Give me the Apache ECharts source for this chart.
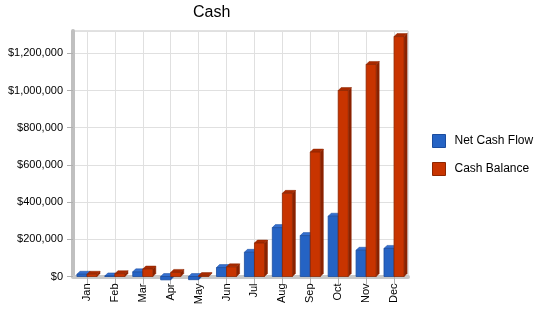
<!DOCTYPE html>
<html>
<head>
<meta charset="utf-8">
<script src="https://cdn.jsdelivr.net/npm/echarts@6/dist/echarts.min.js"></script>
<style>html,body{margin:0;padding:0;background:#fff;}#chart{width:550px;height:318px;}</style>
</head>
<body>
<div id="chart"></div>
<script>
const months = ['Jan','Feb','Mar','Apr','May','Jun','Jul','Aug','Sep','Oct','Nov','Dec'];
const netCashFlow = [12000, 3000, 25000, -18000, -17000, 48000, 130000, 263000, 220000, 324000, 141000, 151000];
const cashBalance = [12000, 15000, 40000, 22000, 5000, 52000, 180000, 447000, 669000, 1000000, 1140000, 1290000];
const seriesNames = ['Net Cash Flow', 'Cash Balance'];
const yMin = 0, yMax = 1320000, yInterval = 200000;

const FONT = "'Liberation Sans', Arial, sans-serif";
const palette = [
  {front:'#2563C4', top:'#3570D0', side:'#1A4A9A', edge:'#1B4C9E'},
  {front:'#C83400', top:'#A82A00', side:'#8A2200', edge:'#8E2600'}
];

function make3D(idx) {
  const c = palette[idx];
  return function (params, api) {
    const x = api.value(0), v = api.value(1);
    const base = api.coord([x, 0]);
    const end = api.coord([x, v]);
    const band = api.size([1, 0])[0];
    const w = band * 0.36;
    const d = 3;
    const left = base[0] + (idx === 0 ? -w : 0);
    const yTop = Math.min(base[1], end[1]);
    const h = Math.abs(base[1] - end[1]);
    return {
      type: 'group',
      children: [
        {type:'polygon', shape:{points:[[left+w,yTop],[left+w+d,yTop-d],[left+w+d,yTop-d+h],[left+w,yTop+h]]}, style:{fill:c.side, stroke:c.edge, lineWidth:0.5}},
        {type:'polygon', shape:{points:[[left,yTop],[left+d,yTop-d],[left+w+d,yTop-d],[left+w,yTop]]}, style:{fill:c.top, stroke:c.edge, lineWidth:0.5}},
        {type:'rect', shape:{x:left, y:yTop, width:w, height:h}, style:{fill:c.front, stroke:c.edge, lineWidth:0.8}}
      ]
    };
  };
}

const chart = echarts.init(document.getElementById('chart'), null, {renderer:'canvas'});
chart.setOption({
  animation: false,
  backgroundColor: '#fff',
  title: {
    text: 'Cash', left: 193, top: 5, padding: 0,
    textStyle: {fontFamily: FONT, fontSize: 16, fontWeight: 'normal', color: '#000'}
  },
  legend: {
    orient: 'vertical', left: 432, top: 134, padding: 0, itemWidth: 13, itemHeight: 13, itemGap: 14,
    icon: 'rect',
    textStyle: {fontFamily: FONT, fontSize: 12, color: '#000', padding: [0,0,0,4]},
    data: seriesNames.map((n, i) => ({name: n, itemStyle: {color: palette[i].front, borderColor: palette[i].edge, borderWidth: 1}}))
  },
  grid: {left: 73, right: 142, top: 31, bottom: 41.5, show: true, borderColor: '#c4c4c4', borderWidth: 1, containLabel: false},
  xAxis: {
    type: 'category', data: months, boundaryGap: true,
    axisLine: {show: true, lineStyle: {color: '#c8c8c8', width: 4}},
    axisTick: {show: true, alignWithLabel: true, length: 8, lineStyle: {color: '#b0b0b0'}},
    splitLine: {show: true, alignWithLabel: true, lineStyle: {color: '#e0e0e0'}},
    axisLabel: {rotate: 90, margin: 7, fontFamily: FONT, fontSize: 11, color: '#000'}
  },
  yAxis: {
    type: 'value', min: yMin, max: yMax, interval: yInterval,
    axisLine: {show: true, lineStyle: {color: '#c0c0c0', width: 4}},
    axisTick: {show: true, length: 6, lineStyle: {color: '#b0b0b0'}},
    splitLine: {show: true, lineStyle: {color: '#e0e0e0'}},
    axisLabel: {
      showMaxLabel: false, margin: 10, fontFamily: FONT, fontSize: 11, color: '#000',
      formatter: v => v > 1300000 ? '' : '$' + v.toLocaleString('en-US')
    }
  },
  series: [
    {name: seriesNames[0], type: 'custom', renderItem: make3D(0), clip: false, z: 3,
     itemStyle: {color: palette[0].front}, encode: {x: 0, y: 1},
     data: netCashFlow.map((v, i) => [i, v])},
    {name: seriesNames[1], type: 'custom', renderItem: make3D(1), clip: false, z: 3,
     itemStyle: {color: palette[1].front}, encode: {x: 0, y: 1},
     data: cashBalance.map((v, i) => [i, v])}
  ]
});
</script>
</body>
</html>
